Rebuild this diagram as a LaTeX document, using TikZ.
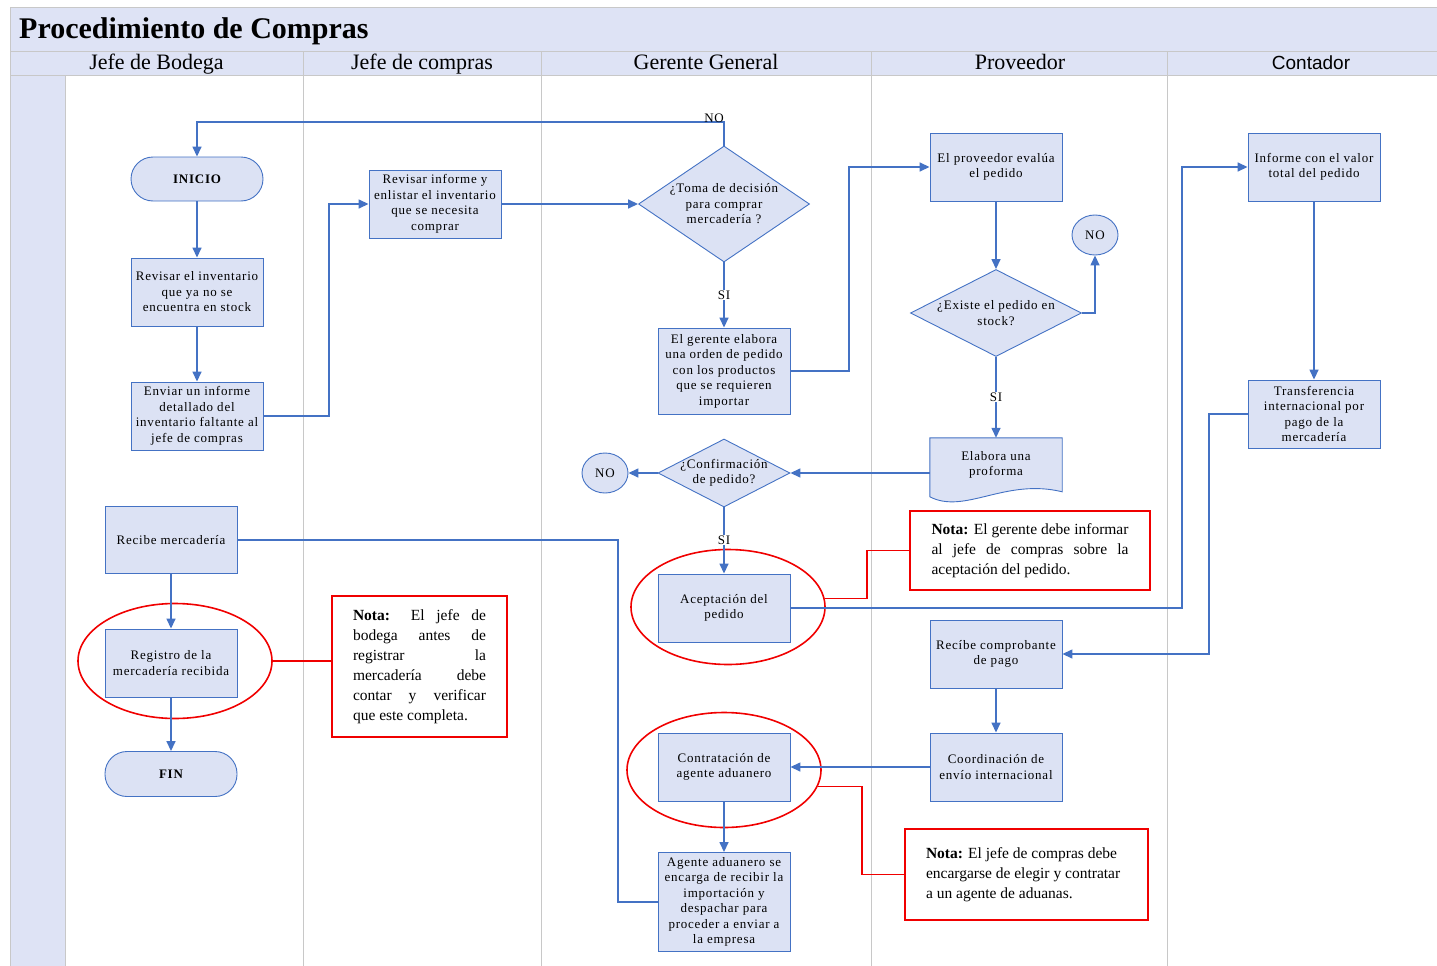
\documentclass[tikz,border=0pt]{standalone}
\usepackage{fontspec}
\setmainfont{Liberation Serif}
\newfontfamily\nodefont[LetterSpace=6]{Liberation Serif}
\newfontfamily\hdsans{Liberation Sans}
\usetikzlibrary{arrows.meta,shapes.geometric,calc}
\definecolor{lanebg}{RGB}{222,227,245}
\definecolor{nodebg}{RGB}{220,226,244}
\definecolor{flowblue}{RGB}{68,114,196}
\definecolor{gridgray}{RGB}{200,200,200}
\definecolor{notered}{RGB}{240,0,0}
\tikzset{
  box/.style={draw=flowblue, fill=nodebg, line width=0.9pt, minimum width=132pt, inner sep=0pt, align=center, font=\nodefont\fontsize{13}{15.5}\selectfont},
  term/.style={box, rounded corners=22pt, minimum height=44pt, font=\nodefont\fontsize{13}{15.5}\selectfont\bfseries},
  dia/.style={draw=flowblue, fill=nodebg, line width=0.9pt, diamond, inner sep=0pt},
  dtext/.style={align=center, font=\nodefont\fontsize{13}{15.5}\selectfont},
  circ/.style={draw=flowblue, fill=nodebg, line width=0.9pt, ellipse, minimum width=46pt, minimum height=40pt, inner sep=0pt, font=\nodefont\fontsize{13}{15}\selectfont},
  lbl/.style={inner sep=1pt, font=\nodefont\fontsize{13}{14}\selectfont},
  arr/.style={draw=flowblue, line width=1.5pt, -{Triangle[length=10pt,width=9pt]}},
  plain/.style={draw=flowblue, line width=1.5pt},
  note/.style={draw=notered, line width=2.5pt, inner sep=0pt, font=\fontsize{15.5}{20}\selectfont},
  ring/.style={draw=notered, line width=1.6pt, ellipse, inner sep=0pt, minimum width=194pt, minimum height=115pt},
  redline/.style={draw=notered, line width=1.6pt},
  grid/.style={draw=gridgray, line width=1pt},
  hdr/.style={anchor=base, inner sep=0pt, font=\fontsize{22}{24}\selectfont}
}
\begin{document}
\begin{tikzpicture}[x=1pt,y=-1pt]
\useasboundingbox (0,0) rectangle (1437,966);
% --- swimlane frame ---
\fill[lanebg] (10,8) rectangle (1437,75);
\fill[lanebg] (10,75) rectangle (65,966);
\draw[grid] (10,8) -- (1437,8);
\draw[grid] (10,52) -- (1437,52);
\draw[grid] (10,75) -- (1437,75);
\draw[grid] (10,8) -- (10,966);
\draw[grid] (65,75) -- (65,966);
\foreach \xx in {303,541,871,1167} \draw[grid] (\xx,52) -- (\xx,966);
\node[anchor=base west, inner sep=0pt, font=\fontsize{30}{32}\selectfont\bfseries] (title) at (19,38) {Procedimiento de Compras};
\node[hdr] (h1) at (156.5,70) {Jefe de Bodega};
\node[hdr] (h2) at (422,70) {Jefe de compras};
\node[hdr] (h3) at (706,70) {Gerente General};
\node[hdr] (h4) at (1020,70) {Proveedor};
\node[anchor=base, inner sep=0pt, font=\hdsans\fontsize{19}{22}\selectfont] (h5) at (1311,70) {Contador};

% --- nodes ---
\node[term] (inicio) at (197,179) {INICIO};
\node[box, minimum height=68pt] (revinv) at (197,292) {Revisar el inventario\\que ya no se\\encuentra en stock};
\node[box, minimum height=68pt] (enviar) at (197,416) {Enviar un informe\\detallado del\\inventario faltante al\\jefe de compras};
\node[box, minimum height=68pt] (revinf) at (435,204) {Revisar informe y\\enlistar el inventario\\que se necesita\\comprar};
\node[dia, minimum width=171pt, minimum height=116pt,
      label={[dtext]center:{¿Toma de decisión\\para comprar\\mercadería ?}}] (toma) at (724,204) {};
\node[box, minimum height=86pt] (gerente) at (724,371) {El gerente elabora\\una orden de pedido\\con los productos\\que se requieren\\importar};
\node[box, minimum height=68pt] (prov) at (996,167) {El proveedor evalúa\\el pedido};
\node[circ] (no1) at (1095,235) {NO};
\node[dia, minimum width=171pt, minimum height=87pt,
      label={[dtext]center:{¿Existe el pedido en\\stock?}}] (existe) at (996,313) {};
\node[minimum width=132pt, minimum height=70pt, inner sep=0pt] (prof) at (996,473) {};
\fill[nodebg] ($(prof.north west)+(0,59)$) -- (prof.north west) -- (prof.north east) -- ($(prof.north east)+(0,54)$)
  .. controls ($(prof.north east)+(-57,40)$) and ($(prof.north west)+(35,77)$) .. ($(prof.north west)+(0,59)$) -- cycle;
\draw[flowblue, line width=0.9pt] ($(prof.north west)+(0,59)$) -- (prof.north west) -- (prof.north east) -- ($(prof.north east)+(0,54)$)
  .. controls ($(prof.north east)+(-57,40)$) and ($(prof.north west)+(35,77)$) .. ($(prof.north west)+(0,59)$);
\node[dtext] (proftxt) at (996,465) {Elabora una\\proforma};
\node[dia, minimum width=132pt, minimum height=68pt,
      label={[dtext]center:{¿Confirmación\\de pedido?}}] (conf) at (724,473) {};
\node[circ] (no2) at (605,473) {NO};
\node[box, minimum height=68pt] (acep) at (724,608) {Aceptación del\\pedido};
\node[box, minimum height=68pt] (rcomp) at (996,654) {Recíbe comprobante\\de pago};
\node[box, minimum height=68pt] (coord) at (996,767) {Coordinación de\\envío internacional};
\node[box, minimum height=68pt] (contr) at (724,767) {Contratación de\\agente aduanero};
\node[box, minimum height=99pt] (agente) at (724,902) {Agente aduanero se\\encarga de recibir la\\importación y\\despachar para\\proceder a enviar a\\la empresa};
\node[box, minimum height=68pt] (infval) at (1314,167) {Informe con el valor\\total del pedido};
\node[box, minimum height=68pt] (transf) at (1314,414) {Transferencia\\internacional por\\pago de la\\mercadería};
\node[box, minimum height=67pt] (rmerc) at (171,540) {Recibe mercadería};
\node[box, minimum height=68pt] (regis) at (171,663) {Registro de la\\mercadería recibida};
\node[term, minimum height=45pt] (fin) at (171,774) {FIN};

% --- notes ---
\node[note, minimum width=175pt, minimum height=141pt] (n1) at (419.5,666.5) {%
\begin{minipage}{133pt}\raggedright
\makebox[133pt][s]{\textbf{Nota:} El jefe de}\\
\makebox[133pt][s]{bodega antes de}\\
\makebox[133pt][s]{registrar la}\\
\makebox[133pt][s]{mercadería debe}\\
\makebox[133pt][s]{contar y verificar}\\
que este completa.
\end{minipage}};
\node[note, minimum width=240pt, minimum height=79pt] (n2) at (1030,550.5) {%
\begin{minipage}{197pt}\raggedright
\makebox[197pt][s]{\textbf{Nota:} El gerente debe informar}\\
\makebox[197pt][s]{al jefe de compras sobre la}\\
aceptación del pedido.
\end{minipage}};
\node[note, minimum width=243pt, minimum height=91pt] (n3) at (1026.5,874.5) {%
\begin{minipage}{201pt}\raggedright
\textbf{Nota:} El jefe de compras debe\\
encargarse de elegir y contratar\\
a un agente de aduanas.
\end{minipage}};

% --- red rings ---
\node[ring] (e1) at (175,661) {};
\node[ring] (e2) at (728,607) {};
\node[ring] (e3) at (724,770) {};

% --- helper coordinates ---
\coordinate (cno) at (724,122);
\coordinate (k1) at (329,0);
\coordinate (k2) at (849,0);
\coordinate (k3) at (1182,0);
\coordinate (k4) at (1209,0);
\coordinate (k5) at (618,0);
\coordinate (k6) at (867,0);
\coordinate (k7) at (862,0);

% --- blue connectors ---
\draw[arr] (toma.north) -- (cno) -| (inicio.north);
\node[lbl, anchor=south east, inner sep=0pt] (nolab) at (724,123) {NO};
\draw[arr] (inicio) -- (revinv);
\draw[arr] (revinv) -- (enviar);
\draw[arr] (enviar.east) -- (enviar.east -| k1) |- (revinf.west);
\draw[arr] (revinf.east) -- (toma.west);
\draw[arr] (toma.south) -- (gerente.north);
\node[lbl, fill=white] (si1) at (724,295) {SI};
\draw[arr] (gerente.east) -- (gerente.east -| k2) |- (prov.west);
\draw[arr] (prov.south) -- (existe.north);
\draw[arr] (existe.east) -| (no1.south);
\draw[arr] (existe.south) -- (prof.north);
\node[lbl, fill=white] (si2) at (996,397) {SI};
\draw[arr] (prof.west) -- (conf.east);
\draw[arr] (conf.west) -- (no2.east);
\draw[arr] (conf.south) -- (acep.north);
\node[lbl, fill=white] (si3) at (724,540) {SI};
\draw[arr] (acep.east) -- (acep.east -| k3) |- (infval.west);
\draw[arr] (infval.south) -- (transf.north);
\draw[arr] (transf.west) -- (transf.west -| k4) |- (rcomp.east);
\draw[arr] (rcomp.south) -- (coord.north);
\draw[arr] (coord.west) -- (contr.east);
\draw[arr] (contr.south) -- (agente.north);
\draw[plain] (agente.west) -- (agente.west -| k5) |- (rmerc.east);
\draw[arr] (rmerc.south) -- (regis.north);
\draw[arr] (regis.south) -- (fin.north);

% --- red connectors ---
\draw[redline] (e1.east) -- (e1.east -| n1.west);
\draw[redline] (e2.5) -- (e2.5 -| k6) |- (n2.west);
\draw[redline] (e3.-10) -- (e3.-10 -| k7) |- (n3.west);
\end{tikzpicture}
\end{document}
